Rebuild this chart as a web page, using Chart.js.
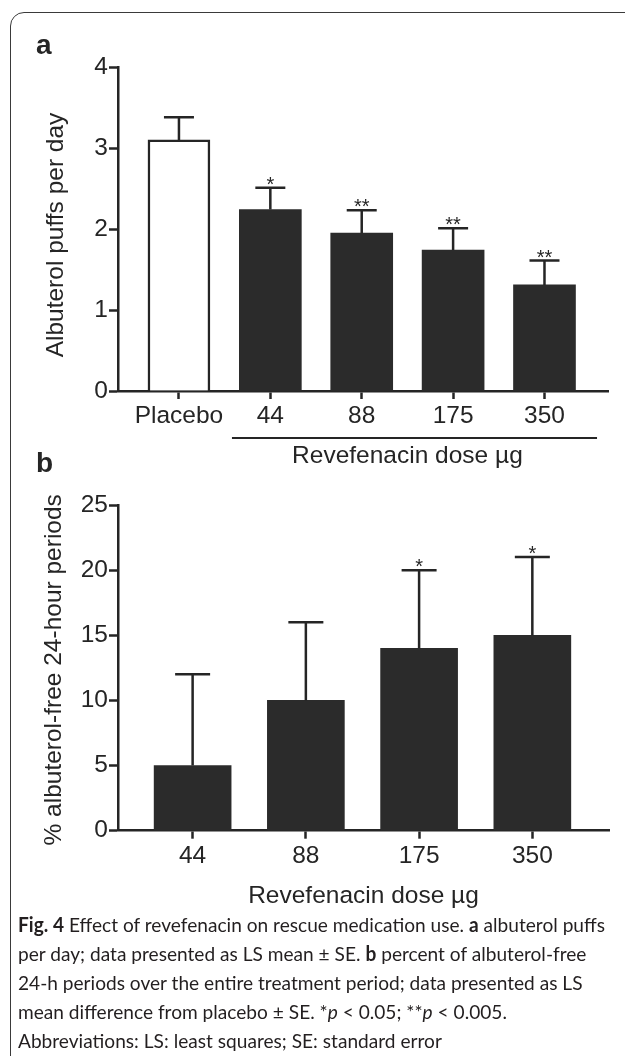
<!DOCTYPE html>
<html><head><meta charset="utf-8">
<script src="https://cdn.jsdelivr.net/npm/chart.js@4.4.1/dist/chart.umd.min.js"></script>
<style>
body{margin:0;background:#fff;width:625px;height:1056px;overflow:hidden;position:relative;}
#frame{position:absolute;left:10px;top:12px;width:660px;height:1100px;border:1.5px solid #3a3a3a;border-radius:14px;}
#ca{position:absolute;left:0;top:0;}
#cb{position:absolute;left:0;top:440px;}
#caption{position:absolute;left:18px;top:910px;font-family:Lato,'Open Sans',sans-serif;font-size:20px;line-height:29px;color:#231f20;white-space:nowrap;transform-origin:0 0;}
#caption b{font-weight:bold}
</style></head>
<body>
<div id="frame"></div>
<canvas id="ca" width="625" height="470"></canvas>
<canvas id="cb" width="625" height="470"></canvas>
<div id="caption"><span id="l1"><b>Fig. 4</b> Effect of revefenacin on rescue medication use. <b>a</b> albuterol puffs</span><br>per day; data presented as LS mean ± SE. <b>b</b> percent of albuterol-free<br>24-h periods over the entire treatment period; data presented as LS<br>mean difference from placebo ± SE. *<i>p</i> &lt; 0.05; **<i>p</i> &lt; 0.005.<br>Abbreviations: LS: least squares; SE: standard error</div>
<script>
// ---- Data ----
const catsA = ['Placebo', '44', '88', '175', '350'];
const meanA = [3.10, 2.24, 1.95, 1.74, 1.31];
const seA = [0.28, 0.27, 0.28, 0.27, 0.30];
const starsA = ['', '*', '**', '**', '**'];
const yTicksA = [0, 1, 2, 3, 4];

const catsB = ['44', '88', '175', '350'];
const meanB = [5, 10, 14, 15];
const seB = [7, 6, 6, 6];
const starsB = ['', '', '*', '*'];
const yTicksB = [0, 5, 10, 15, 20, 25];

const INK = '#252525';
const FONT = "'Liberation Sans', Arial, sans-serif";
const fnt = {family: FONT, size: 24.5};

// fit caption width
(function(){
  const cap = document.getElementById('caption');
  const w = document.getElementById('l1').getBoundingClientRect().width;
  cap.style.transform = 'scaleX(' + (587 / w) + ')';
})();

const annot = {
  id: 'annot',
  afterDatasetsDraw(chart, args, o) {
    const ctx = chart.ctx, ys = chart.scales.y, xs = chart.scales.x;
    const meta = chart.getDatasetMeta(0);
    ctx.save();
    ctx.strokeStyle = INK; ctx.fillStyle = INK; ctx.lineWidth = 2.5;
    meta.data.forEach((bar, i) => {
      const x = bar.x, top = ys.getPixelForValue(o.mean[i] + o.se[i]);
      ctx.beginPath();
      ctx.moveTo(x, bar.y); ctx.lineTo(x, top);
      ctx.moveTo(x - o.cap / 2, top); ctx.lineTo(x + o.cap / 2, top);
      ctx.stroke();
      if (o.stars[i]) {
        ctx.font = '20px ' + FONT; ctx.textAlign = 'center'; ctx.textBaseline = 'alphabetic';
        ctx.fillText(o.stars[i], x, top + 3);
      }
    });
    const a = chart.chartArea;
    ctx.font = '24.5px ' + FONT; ctx.textAlign = 'center'; ctx.textBaseline = 'middle';
    ctx.save(); ctx.translate(o.yTitleX, (a.top + a.bottom) / 2 + o.yTitleDy); ctx.rotate(-Math.PI / 2);
    ctx.fillText(o.yTitle, 0, 0); ctx.restore();
    ctx.font = 'bold 28px ' + FONT; ctx.textAlign = 'left'; ctx.textBaseline = 'alphabetic';
    ctx.fillText(o.letter, o.letterX, o.letterY);
    o.extra && o.extra(chart, ctx, xs, a);
    ctx.restore();
  }
};

function baseScales(xmin, xmax, cats, ymax, yTicks, xH) {
  return {
    x: {type: 'linear', min: xmin, max: xmax, offset: false,
      afterBuildTicks: s => { s.ticks = cats.map((c, i) => ({value: i})); },
      afterFit: s => { s.height = xH; },
      ticks: {callback: v => cats[v], font: fnt, color: INK, padding: 3, maxRotation: 0, autoSkip: false},
      grid: {offset: false, drawOnChartArea: false, drawTicks: true, tickLength: 8, tickColor: INK, tickWidth: 2.5},
      border: {display: true, color: INK, width: 2.5}},
    y: {min: 0, max: ymax,
      afterBuildTicks: s => { s.ticks = yTicks.map(v => ({value: v})); },
      afterFit: s => { s.width = 118; },
      ticks: {font: fnt, color: INK, padding: 1},
      grid: {drawOnChartArea: false, drawTicks: true, tickLength: 9, tickColor: INK, tickWidth: 2.5},
      border: {display: true, color: INK, width: 2.5}}
  };
}

new Chart(document.getElementById('ca'), {
  type: 'bar',
  data: {datasets: [{
    data: meanA.map((v, i) => ({x: i, y: v})),
    backgroundColor: meanA.map((v, i) => i === 0 ? '#ffffff' : '#2b2b2b'),
    borderColor: INK, borderWidth: meanA.map((v, i) => i === 0 ? 2.5 : 0),
    barThickness: 62
  }]},
  options: {
    responsive: false, animation: false, devicePixelRatio: 1,
    layout: {padding: {top: 67, right: 17, left: 0, bottom: 0}},
    plugins: {legend: {display: false}, tooltip: {enabled: false},
      annot: {mean: meanA, se: seA, stars: starsA, cap: 30, yTitle: 'Albuterol puffs per day',
        yTitleX: 56, yTitleDy: 6, letter: 'a', letterX: 36, letterY: 54,
        extra: (chart, ctx, xs, a) => {
          const step = xs.getPixelForValue(2) - xs.getPixelForValue(1);
          const l = xs.getPixelForValue(1) - 0.42 * step, r = xs.getPixelForValue(4) + 0.575 * step;
          ctx.lineWidth = 2; ctx.beginPath(); ctx.moveTo(l, a.bottom + 47); ctx.lineTo(r, a.bottom + 47); ctx.stroke();
          ctx.font = '24.5px ' + FONT; ctx.textAlign = 'center'; ctx.textBaseline = 'middle';
          ctx.fillText('Revefenacin dose µg', (xs.getPixelForValue(1) + xs.getPixelForValue(4)) / 2, a.bottom + 65);
        }}},
    scales: baseScales(-0.667, 4.695, catsA, 4, yTicksA, 79)
  },
  plugins: [annot]
});

new Chart(document.getElementById('cb'), {
  type: 'bar',
  data: {datasets: [{
    data: meanB.map((v, i) => ({x: i, y: v})),
    backgroundColor: '#2b2b2b', borderWidth: 0, barThickness: 77
  }]},
  options: {
    responsive: false, animation: false, devicePixelRatio: 1,
    layout: {padding: {top: 65, right: 16, left: 0, bottom: 0}},
    plugins: {legend: {display: false}, tooltip: {enabled: false},
      annot: {mean: meanB, se: seB, stars: starsB, cap: 35, yTitle: '% albuterol-free 24-hour periods',
        yTitleX: 54, yTitleDy: 2, letter: 'b', letterX: 36, letterY: 32,
        extra: (chart, ctx, xs, a) => {
          ctx.font = '24.5px ' + FONT; ctx.textAlign = 'center'; ctx.textBaseline = 'middle';
          ctx.fillText('Revefenacin dose µg', (a.left + a.right) / 2, a.bottom + 66);
        }}},
    scales: baseScales(-0.659, 3.677, catsB, 25, yTicksB, 79.3)
  },
  plugins: [annot]
});
</script>
</body></html>
